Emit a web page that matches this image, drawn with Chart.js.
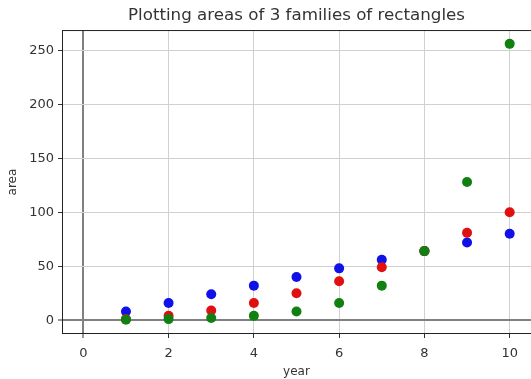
<!DOCTYPE html>
<html><head><meta charset="utf-8">
<script src="https://cdn.jsdelivr.net/npm/chart.js@4/dist/chart.umd.min.js"></script>
<style>html,body{margin:0;padding:0;background:#fff}canvas{display:block}</style>
</head><body>
<canvas id="c" width="531" height="379"></canvas>
<script>
const years = [1, 2, 3, 4, 5, 6, 7, 8, 9, 10];
const redAreas = [1, 4, 9, 16, 25, 36, 49, 64, 81, 100];
const blueAreas = [8, 16, 24, 32, 40, 48, 56, 64, 72, 80];
const greenAreas = [0.5, 1, 2, 4, 8, 16, 32, 64, 128, 256];
const xTicks = [0, 2, 4, 6, 8, 10];
const yTicks = [0, 50, 100, 150, 200, 250];

const pts = arr => years.map((x, i) => ({x: x, y: arr[i]}));
const FONT = '"DejaVu Sans", sans-serif';

const frame = {
  id: 'frame',
  afterDraw(chart) {
    const a = chart.chartArea, ctx = chart.ctx;
    ctx.save();
    ctx.strokeStyle = '#222';
    ctx.lineWidth = 1;
    ctx.strokeRect(a.left + 0.5, a.top + 0.5, a.right - a.left, a.bottom - a.top - 1);
    ctx.restore();
  }
};

const gridColor = c => c.tick && c.tick.value === 0 ? '#808080' : '#d0d0d0';
const gridWidth = c => c.tick && c.tick.value === 0 ? 2 : 1;

new Chart(document.getElementById('c'), {
  type: 'scatter',
  data: {
    datasets: [
      {label: 'red', data: pts(redAreas), backgroundColor: '#e01010', order: 2},
      {label: 'blue', data: pts(blueAreas), backgroundColor: '#1010e8', order: 3},
      {label: 'green', data: pts(greenAreas), backgroundColor: '#108010', order: 1}
    ]
  },
  options: {
    responsive: false,
    animation: false,
    layout: {padding: 0, autoPadding: false},
    elements: {point: {radius: 5, borderWidth: 0, hoverRadius: 5}},
    plugins: {
      legend: {display: false},
      tooltip: {enabled: false},
      title: {
        display: true, fullSize: false,
        text: 'Plotting areas of 3 families of rectangles',
        color: '#333', font: {family: FONT, size: 16.7, weight: 'normal'},
        padding: {top: 6, bottom: 4}
      }
    },
    scales: {
      x: {
        type: 'linear', min: -0.5, max: 10.5,
        afterBuildTicks: s => { s.ticks = xTicks.map(v => ({value: v})); },
        afterFit: s => { s.height = 45; s.paddingRight = 0; },
        ticks: {color: '#333', font: {family: FONT, size: 13}, padding: 8, maxRotation: 0},
        grid: {color: gridColor, lineWidth: gridWidth, tickColor: '#333', tickLength: 4, tickWidth: 1},
        border: {display: false},
        title: {display: true, text: 'year', color: '#333', font: {family: FONT, size: 12}, padding: {top: 0, bottom: 0}}
      },
      y: {
        type: 'linear', min: -12.8, max: 268.8,
        afterBuildTicks: s => { s.ticks = yTicks.map(v => ({value: v})); },
        afterFit: s => { s.width = 62; },
        ticks: {color: '#333', font: {family: FONT, size: 13}, padding: 4},
        grid: {color: gridColor, lineWidth: gridWidth, tickColor: '#333', tickLength: 4, tickWidth: 1},
        border: {display: false},
        title: {display: true, text: 'area', color: '#333', font: {family: FONT, size: 12}, padding: {top: 6, bottom: 2}}
      }
    }
  },
  plugins: [frame]
});
</script>
</body></html>
